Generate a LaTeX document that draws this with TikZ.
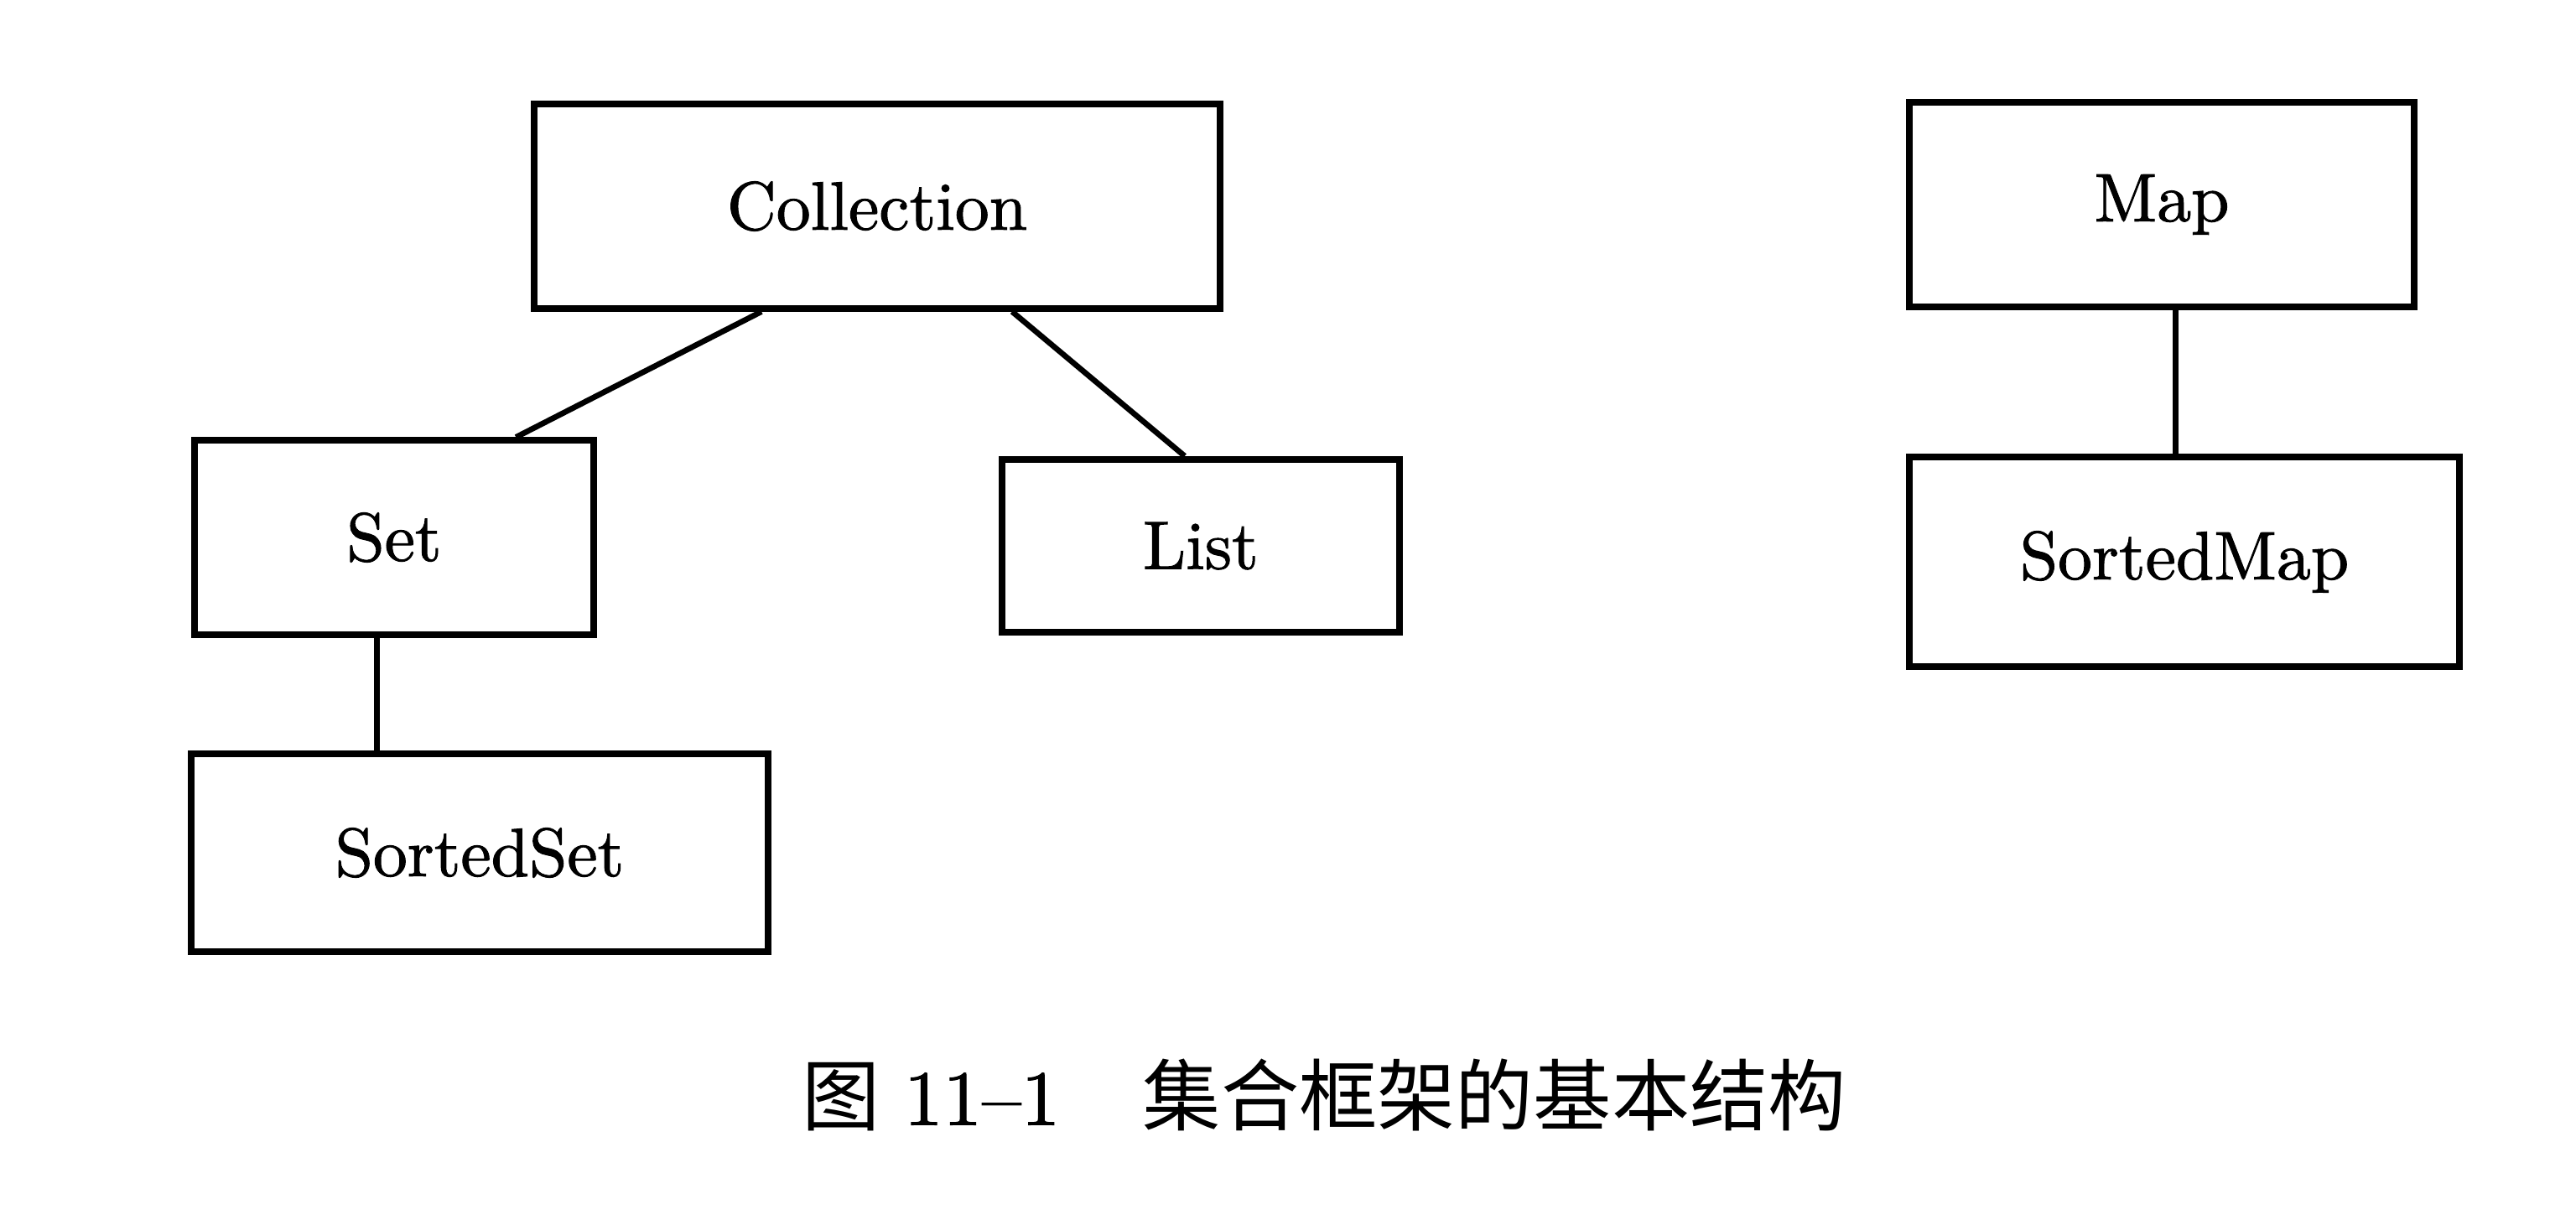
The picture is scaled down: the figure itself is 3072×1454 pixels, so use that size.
\documentclass[tikz,border=0pt]{standalone}
\usepackage{fontspec}
\newfontfamily\cjk{Noto Sans CJK SC}
\newfontfamily\boxfont{lmroman10-regular.otf}[FakeBold=1.2]
\usetikzlibrary{calc}
\begin{document}
\begin{tikzpicture}[x=0.01cm,y=-0.01cm,
  box/.style={draw=black, line width=2.3pt, rectangle, inner sep=0pt, font=\boxfont\fontsize{23.2}{28}\selectfont},
  link/.style={draw=black, line width=1.9pt}]
\useasboundingbox (0,0) rectangle (3072,1454);
\node[box, minimum width=8.17cm, minimum height=2.43cm] (coll) at (1046,246) {Collection};
\node[box, minimum width=4.76cm, minimum height=2.31cm] (set) at (470,641) {Set};
\node[box, minimum width=4.73cm, minimum height=2.06cm] (list) at (1432,651) {List};
\node[box, minimum width=6.87cm, minimum height=2.36cm] (sset) at (572,1017) {SortedSet};
\node[box, minimum width=6.02cm, minimum height=2.43cm] (map) at (2578,244) {Map};
\node[box, minimum width=6.55cm, minimum height=2.50cm] (smap) at (2605,670) {SortedMap};
% connectors
\coordinate (c1) at ($(coll.south west)!0.333!(coll.south east)$);
\coordinate (c2) at ($(coll.south west)!0.695!(coll.south east)$);
\coordinate (s1) at ($(set.north west)!0.80!(set.north east)$);
\coordinate (l1) at ($(list.north west)!0.46!(list.north east)$);
\coordinate (s2) at ($(set.south west)!0.458!(set.south east)$);
\coordinate (m1) at ($(map.south west)!0.527!(map.south east)$);
\draw[link] (c1) -- (s1);
\draw[link] (c2) -- (l1);
\draw[link] (s2) -- (s2 |- sset.north);
\draw[link] (m1) -- (m1 |- smap.north);
% caption
\node[anchor=west, inner sep=0pt, font=\boxfont\fontsize{26.5}{30}\selectfont] (cap) at (956,1306)
  {{\cjk 图}\hspace{8pt}11–1\hspace{28pt}{\cjk 集合框架的基本结构}};
\end{tikzpicture}
\end{document}
